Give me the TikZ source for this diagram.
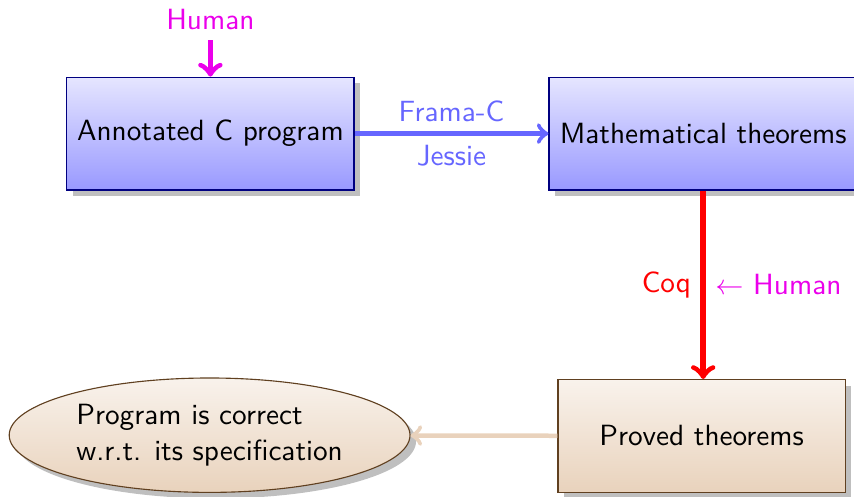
\documentclass[tikz,border=0pt]{standalone}
\usetikzlibrary{shapes.geometric,shadows}
\definecolor{humancol}{RGB}{235,0,235}
\tikzset{
  bluebox/.style={rectangle,draw=blue!50!black,top color=blue!10,bottom color=blue!40,drop shadow,minimum height=1.41cm},
  brownbox/.style={rectangle,draw=brown!50!black,top color=brown!10,bottom color=brown!35,drop shadow,minimum height=1.41cm},
}
\begin{document}
\begin{tikzpicture}[font=\sffamily\fontsize{10.4}{12.5}\selectfont]
            \useasboundingbox (0,0) rectangle (10.675,-6.2125);
            % boxes
            \node[bluebox,minimum width=3.59cm] (annot) at (2.63,-1.67) {Annotated C program};
            \node[bluebox,minimum width=3.855cm] (theo) at (8.79,-1.67) {Mathematical theorems};
            \node[brownbox,minimum width=3.59cm] (proved) at (8.77,-5.45) {Proved theorems};
            \node[brownbox,ellipse,align=left,inner sep=0pt,minimum width=5.01cm,minimum height=1.43cm] (correct) at (2.62,-5.44) {Program is correct\\w.r.t. its specification};
            \node[text=humancol] (human) at (2.63,-0.25) {Human};
            
            % arrows
            \path [->,line width=2pt,humancol](human) edge (annot);
            \path [->,ultra thick,blue!60](annot) edge node[above] {Frama-C} node[below] {Jessie} (theo);
            \path [->,line width=2pt,red](theo.south) edge node[left] {Coq} node[right,text=humancol] {$\leftarrow$ Human} (theo.south |- proved.north);
            \path [->,ultra thick,brown!35](proved) edge (correct);
        \end{tikzpicture}
\end{document}
